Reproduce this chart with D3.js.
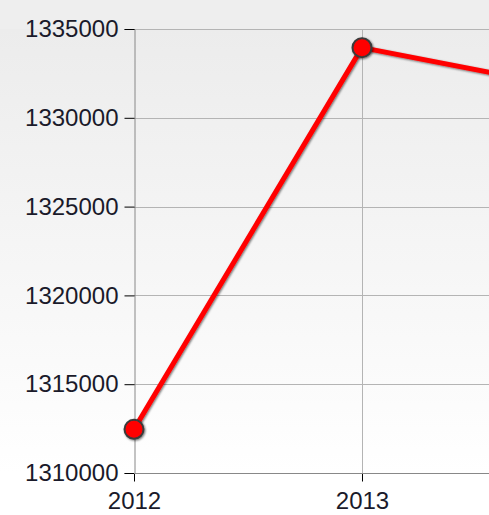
<!DOCTYPE html>
<html>
<head>
<meta charset="utf-8">
<script src="https://cdn.jsdelivr.net/npm/d3@7"></script>
<style>
  html, body { margin: 0; padding: 0; overflow: hidden; background: #fff; }
  svg { display: block; font-family: "Liberation Sans", Arial, sans-serif; }
</style>
</head>
<body>
<div id="wrapper"></div>
<script>
// Data
const years = [2012, 2013, 2014];
const values = [1312460, 1333950, 1331470];
const yTickValues = [1310000, 1315000, 1320000, 1325000, 1330000, 1335000];

function drawChart() {
    const dimensions = {
        width: 489,
        height: 515,
        margin: {top: 29, left: 134, bottom: 42},
    };
    dimensions.boundedHeight = dimensions.height - dimensions.margin.top - dimensions.margin.bottom;
    // one year step in pixels (plot continues past the right edge)
    const yearStep = 228;

    const wrapper = d3.select("#wrapper")
        .append("svg")
        .attr("width", dimensions.width)
        .attr("height", dimensions.height);

    const defs = wrapper.append("defs");
    const grad = defs.append("linearGradient")
        .attr("id", "bg").attr("x1", 0).attr("y1", 0).attr("x2", 0).attr("y2", 1);
    grad.append("stop").attr("offset", "0%").attr("stop-color", "#ececec");
    grad.append("stop").attr("offset", "75%").attr("stop-color", "#fafafa");
    grad.append("stop").attr("offset", "100%").attr("stop-color", "#ffffff");

    const shadow = defs.append("filter").attr("id", "shadow")
        .attr("x", "-20%").attr("y", "-20%").attr("width", "140%").attr("height", "140%");
    shadow.append("feDropShadow")
        .attr("dx", 1).attr("dy", 1).attr("stdDeviation", 1.2)
        .attr("flood-color", "#000").attr("flood-opacity", 0.55);

    // background
    wrapper.append("rect")
        .attr("width", dimensions.width).attr("height", dimensions.margin.top)
        .attr("fill", "#eeeeee");
    wrapper.append("rect")
        .attr("y", dimensions.margin.top)
        .attr("width", dimensions.width).attr("height", dimensions.boundedHeight)
        .attr("fill", "url(#bg)");

    const xScale = d3.scaleLinear()
        .domain([years[0], years[1]])
        .range([dimensions.margin.left, dimensions.margin.left + yearStep]);

    const yScale = d3.scaleLinear()
        .domain([1310000, 1335000])
        .range([dimensions.margin.top + dimensions.boundedHeight, dimensions.margin.top]);

    const x0 = dimensions.margin.left;
    const yBottom = yScale.range()[0];
    // only the years whose tick falls inside the visible frame get a label
    const visibleYears = years.filter(d => xScale(d) < dimensions.width);

    // gridlines
    wrapper.append("g")
        .selectAll("line")
        .data(yTickValues)
        .join("line")
        .attr("x1", x0).attr("x2", dimensions.width)
        .attr("y1", d => Math.round(yScale(d)) + 0.5)
        .attr("y2", d => Math.round(yScale(d)) + 0.5)
        .attr("stroke", "#b4b4b4");

    wrapper.append("g")
        .selectAll("line")
        .data(visibleYears.slice(1))
        .join("line")
        .attr("x1", d => Math.round(xScale(d)) + 0.5)
        .attr("x2", d => Math.round(xScale(d)) + 0.5)
        .attr("y1", yScale.range()[1]).attr("y2", yBottom)
        .attr("stroke", "#b4b4b4");

    // y axis
    const yAxis = wrapper.append("g")
        .attr("transform", `translate(${x0 + 0.5},0)`)
        .call(d3.axisLeft(yScale).tickValues(yTickValues).tickFormat(d3.format("d")).tickSize(10).tickPadding(6));
    yAxis.select(".domain").attr("stroke", "#888");
    yAxis.selectAll(".tick line").attr("stroke", "#000");
    yAxis.selectAll("text").attr("font-size", 24).attr("fill", "#1a1a2a")
        .attr("font-family", "Liberation Sans, Arial, sans-serif");

    // x axis
    const xAxis = wrapper.append("g")
        .attr("transform", `translate(0,${Math.round(yBottom) + 0.5})`)
        .call(d3.axisBottom(xScale).tickValues(visibleYears).tickFormat(d3.format("d")).tickSize(8).tickPadding(10));
    xAxis.select(".domain").remove();
    xAxis.append("line")
        .attr("x1", x0).attr("x2", dimensions.width)
        .attr("stroke", "#888");
    xAxis.selectAll(".tick line").attr("stroke", "#000");
    xAxis.selectAll("text").attr("font-size", 24).attr("fill", "#1a1a2a")
        .attr("font-family", "Liberation Sans, Arial, sans-serif");

    // line
    const points = years.map((year, i) => ({year, value: values[i]}));
    const lineGenerator = d3.line()
        .x(d => xScale(d.year))
        .y(d => yScale(d.value));

    wrapper.append("path")
        .datum(points)
        .attr("d", lineGenerator)
        .attr("fill", "none")
        .attr("stroke", "#ff0000")
        .attr("stroke-width", 5)
        .attr("stroke-linejoin", "round")
        .attr("filter", "url(#shadow)");

    wrapper.append("g")
        .selectAll("circle")
        .data(points)
        .join("circle")
        .attr("cx", d => xScale(d.year))
        .attr("cy", d => yScale(d.value))
        .attr("r", 9.5)
        .attr("fill", "#ff0000")
        .attr("stroke", "#3a3a3a")
        .attr("stroke-width", 2)
        .attr("filter", "url(#shadow)");
}

drawChart();
</script>
</body>
</html>
